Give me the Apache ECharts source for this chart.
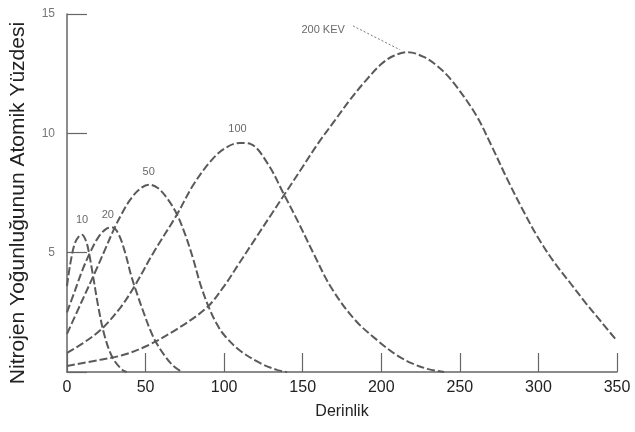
<!DOCTYPE html>
<html>
<head>
<meta charset="utf-8">
<script src="https://cdn.jsdelivr.net/npm/echarts@6/dist/echarts.min.js"></script>
<style>html,body{margin:0;padding:0;background:#fff}#c{width:635px;height:432px}</style>
</head>
<body>
<div id="c"></div>
<script>
// ---- data ----
var xTicks = [0, 50, 100, 150, 200, 250, 300, 350];
var yTicks = [5, 10, 15];

var e10_x = [0, 2, 5, 8, 9.6, 11, 13, 16, 20, 24, 29, 35, 38];
var e10_y = [3.6, 4.5, 5.4, 5.72, 5.75, 5.65, 5.3, 4.25, 2.7, 1.5, 0.6, 0.1, 0];

var e20_x = [0, 5, 10, 15, 20, 25, 29, 33, 37, 41, 45, 49, 53, 57, 62, 67, 72];
var e20_y = [2.5, 3.4, 4.3, 5.05, 5.65, 6.0, 6.05, 5.75, 5.0, 4.0, 3.2, 2.45, 1.75, 1.2, 0.7, 0.3, 0.05];

var e50_x = [0, 9, 18, 24, 30, 35, 40, 46, 52, 58, 64, 70, 75, 80, 85, 90, 95, 100, 110, 123, 134, 140];
var e50_y = [1.6, 2.9, 4.2, 5.1, 6.0, 6.65, 7.2, 7.65, 7.85, 7.7, 7.25, 6.6, 5.8, 4.8, 3.65, 2.75, 2.05, 1.55, 0.9, 0.37, 0.08, 0];

var e100_x = [0, 10, 22, 34, 43, 55, 70, 80, 91, 100, 110, 117, 128, 138, 147, 157, 168, 183, 198, 210, 220, 230, 240];
var e100_y = [0.8, 1.2, 1.8, 2.7, 3.6, 5.0, 6.6, 7.8, 8.8, 9.35, 9.6, 9.55, 8.7, 7.45, 6.3, 4.95, 3.55, 2.2, 1.3, 0.7, 0.35, 0.12, 0];

var e200_x = [0, 20, 35, 51, 70, 89, 100, 110, 120, 130, 140, 150, 160, 170, 180, 190, 200, 208, 217, 227, 236, 245, 260, 270, 280, 290, 300, 310, 320, 330, 340, 350];
var e200_y = [0.25, 0.5, 0.7, 1.1, 1.8, 2.7, 3.6, 4.6, 5.6, 6.6, 7.6, 8.6, 9.6, 10.5, 11.4, 12.2, 12.9, 13.25, 13.4, 13.2, 12.8, 12.2, 10.8, 9.5, 8.1, 6.8, 5.6, 4.6, 3.75, 2.9, 2.1, 1.3];

var curveNames = ['10', '20', '50', '100', '200 KEV'];
var labelX = [9.6, 26, 52, 108.5, 163];
var labelY = [6.35, 6.6, 8.4, 10.2, 14.35];
var leaderX = [182, 212];
var leaderY = [14.5, 13.5];

// ---- chart ----
function pairs(xs, ys) { return xs.map(function (x, i) { return [x, ys[i]]; }); }
var curveColor = '#5a5a5a';
var dash = [8, 3];

function curve(name, xs, ys) {
  return {
    type: 'line', name: name, data: pairs(xs, ys), smooth: 0.35,
    showSymbol: false, symbol: 'none', silent: true,
    lineStyle: { color: curveColor, width: 2, type: dash }
  };
}

var series = [
  curve('10', e10_x, e10_y),
  curve('20', e20_x, e20_y),
  curve('50', e50_x, e50_y),
  curve('100', e100_x, e100_y),
  curve('200', e200_x, e200_y)
];
series[4].markLine = {
  silent: true, symbol: 'none', animation: false,
  label: { show: false },
  lineStyle: { color: '#777', width: 1, type: [2, 2] },
  data: [[{ coord: [leaderX[0], leaderY[0]] }, { coord: [leaderX[1], leaderY[1]] }]]
};
series.push({
  type: 'scatter', symbolSize: 0, silent: true,
  data: labelX.map(function (x, i) { return { value: [x, labelY[i]], name: curveNames[i] }; }),
  label: {
    show: true, position: 'inside', formatter: '{b}',
    color: '#444', fontSize: 11, fontFamily: 'Liberation Sans Narrow, Liberation Sans, sans-serif'
  }
});

var chart = echarts.init(document.getElementById('c'), null, { renderer: 'canvas' });
chart.setOption({
  animation: false,
  backgroundColor: '#fff',
  grid: { left: 67, right: 18, top: 14, bottom: 60 },
  xAxis: {
    type: 'value', min: 0, max: 350, interval: 50,
    name: 'Derinlik', nameLocation: 'middle', nameGap: 32,
    nameTextStyle: { color: '#222', fontSize: 16, fontFamily: 'Liberation Sans, sans-serif' },
    axisLine: { lineStyle: { color: '#666', width: 1.5 } },
    axisTick: { inside: true, length: 19, lineStyle: { color: '#666', width: 1.2 } },
    axisLabel: { color: '#222', fontSize: 16, margin: 8, fontFamily: 'Liberation Sans, sans-serif',
      formatter: function (v) { return xTicks.indexOf(v) >= 0 ? String(v) : ''; } },
    splitLine: { show: false }
  },
  yAxis: {
    type: 'value', min: 0, max: 15, interval: 5,
    name: 'Nitrojen Yoğunluğunun Atomik Yüzdesi', nameLocation: 'middle', nameGap: 38, nameRotate: 90,
    nameTextStyle: { color: '#222', fontSize: 21, padding: [0, 20, 0, 0],
      fontFamily: 'Liberation Sans Narrow, Liberation Sans, sans-serif' },
    axisLine: { show: true, lineStyle: { color: '#666', width: 1.5 } },
    axisTick: { show: true, inside: true, length: 20, lineStyle: { color: '#666', width: 1.2 } },
    axisLabel: { color: '#777', fontSize: 12, margin: 12, fontFamily: 'Liberation Sans Narrow, Liberation Sans, sans-serif',
      formatter: function (v) { return yTicks.indexOf(v) >= 0 ? String(v) : ''; } },
    splitLine: { show: false }
  },
  series: series
});
</script>
</body>
</html>
